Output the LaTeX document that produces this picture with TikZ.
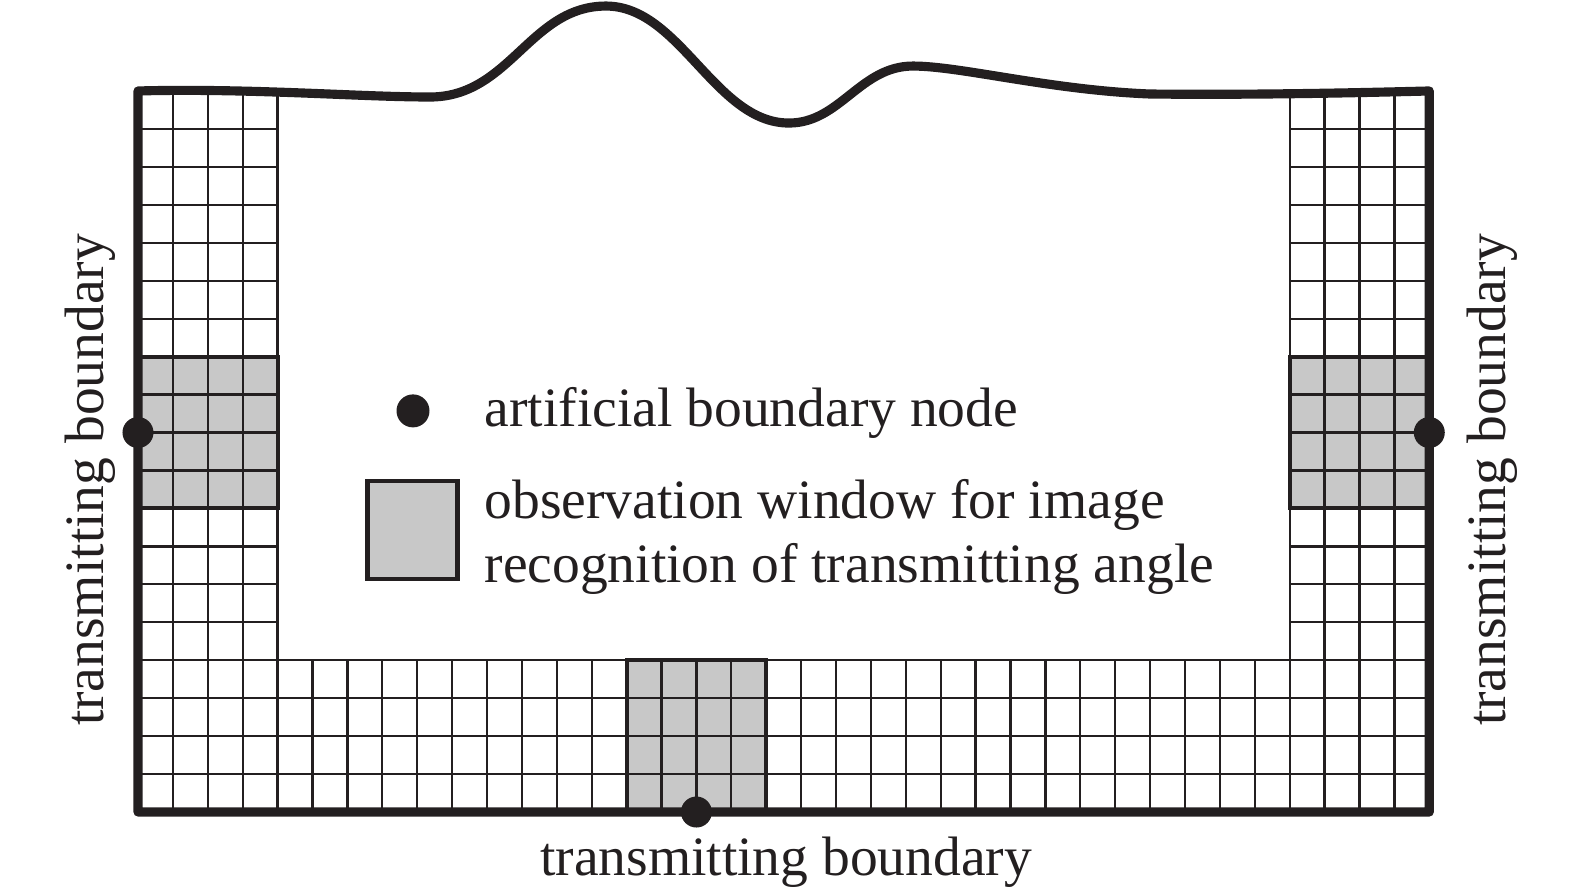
\documentclass[tikz,border=0pt]{standalone}
\usepackage{fontspec}
\setmainfont{Liberation Serif}
\usepackage{xcolor}
\usepackage{tikz}
\usetikzlibrary{positioning}
\definecolor{ink}{RGB}{35,31,32}
\definecolor{winfill}{RGB}{200,200,200}

\begin{document}
\begin{tikzpicture}[x=0.349cm, y=0.3795cm,
    mesh/.style={draw=ink, line width=0.65pt},
    win/.style={fill=winfill},
    winedge/.style={draw=ink, line width=1.1pt},
    frame/.style={draw=ink, line width=2.6pt, line join=round},
    bnode/.style={circle, fill=ink, minimum size=0.31cm, inner sep=0pt},
    lbl/.style={inner sep=0pt, text=ink, font=\fontsize{15.8}{17}\selectfont}]
    \useasboundingbox (-3.954,-2.134) rectangle (41.175,21.397);

    \fill[win] (0,8) rectangle (4,12);
    \fill[win] (33,8) rectangle (37,12);
    \fill[win] (14,0) rectangle (18,4);

    \foreach \i in {0,...,4} {
        \draw[mesh] (\i,0) -- (\i,19);
        \draw[mesh] (33+\i,0) -- (33+\i,19);
    }
    \foreach \i in {5,...,32}
        \draw[mesh] (\i,0) -- (\i,4);
    \foreach \j in {0,...,4}
        \draw[mesh] (0,\j) -- (37,\j);
    \foreach \j in {5,...,19} {
        \draw[mesh] (0,\j) -- (4,\j);
        \draw[mesh] (33,\j) -- (37,\j);
    }

    \draw[winedge] (0,8) rectangle (4,12);
    \draw[winedge] (33,8) rectangle (37,12);
    \draw[winedge] (14,0) rectangle (18,4);

    \draw[frame] (37,19) -- (37,0) -- (0,0) -- (0,19)
        .. controls (3.209,19.078) and (6.361,18.841) .. (8.367,18.841)
        .. controls (10.659,18.841) and (11.232,21.238) .. (13.410,21.238)
        .. controls (15.530,21.238) and (16.533,18.155) .. (18.653,18.155)
        .. controls (20.115,18.155) and (20.688,19.657) .. (22.206,19.657)
        .. controls (23.553,19.657) and (26.132,19.025) .. (28.997,18.920)
        .. controls (31.862,18.893) and (34.728,18.946) .. (37,19) -- cycle;

    \node[bnode] (obsL) at (0,10) {};
    \node[bnode] (obsR) at (37,10) {};
    \node[bnode] (obsB) at (16,0) {};

    \node[bnode, minimum size=0.33cm] (keydot) at (7.88,10.57) {};
    \node[lbl, anchor=base west] (keydottxt) at (9.91,10.15) {artificial boundary node};
    \node[draw=ink, fill=winfill, line width=1.3pt, minimum width=0.9cm, minimum height=0.98cm, inner sep=0pt] (keywin) at (7.865,7.43) {};
    \node[lbl, anchor=base west] (keywintxt) at (9.91,7.73) {observation window for image};
    \node[lbl, anchor=base west] (keywintxtb) at (9.91,6.04) {recognition of transmitting angle};

    \node[lbl, rotate=90, anchor=base] (tbL) at (-1.0,8.75) {transmitting boundary};
    \node[lbl, rotate=90, anchor=base] (tbR) at (39.17,8.75) {transmitting boundary};
    \node[lbl, anchor=base] (tbB) at (18.57,-1.66) {transmitting boundary};
\end{tikzpicture}
\end{document}
